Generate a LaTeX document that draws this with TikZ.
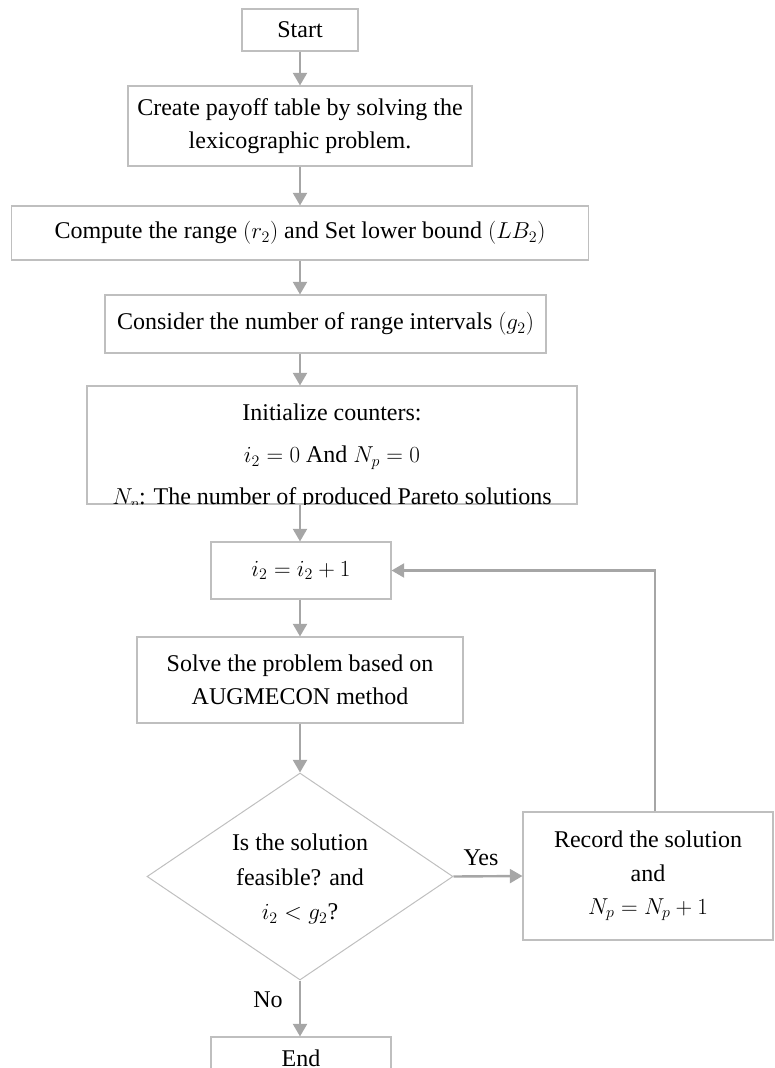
\documentclass[tikz,border=0pt]{standalone}
\usepackage{fontspec}
\setmainfont{Liberation Serif}
\usetikzlibrary{arrows.meta,shapes.geometric}
\definecolor{boxgray}{HTML}{BFBFBF}
\definecolor{arrgray}{HTML}{A6A6A6}
\newcommand\myfs{\fontsize{18}{25}\selectfont}
\begin{document}
\begin{tikzpicture}[x=0.75pt,y=-0.75pt,
  box/.style={draw=boxgray, line width=0.8pt, rectangle, inner sep=0pt, align=center, font=\myfs},
  sz/.style 2 args={minimum width=#1*0.75pt, minimum height=#2*0.75pt},
  arr/.style={draw=arrgray, line width=1.8pt, -{Triangle[length=9.5pt,width=10.5pt]}},
  lbl/.style={font=\myfs, inner sep=0pt}]
\useasboundingbox (0,0) rectangle (775,1068);
\clip (0,0) rectangle (775,1068);
\coordinate (col) at (300,0);
\coordinate (fb) at (655,570.5);

\node[box, sz={116}{42}] (start) at (300,30) {Start};
\node[box, sz={344}{80}] (create) at (300,126) {Create payoff table by solving the\\lexicographic problem.};
\node[box, sz={577}{54}] (compute) at (300,233) {Compute the range $(r_2)$ and Set lower bound $(LB_2)$};
\node[box, sz={441}{58}] (consider) at (325.5,324) {Consider the number of range intervals $(g_2)$};
\node[box, sz={490}{118}] (init) at (332,445) {};
\begin{scope}
\clip (init.south west) rectangle (init.north east);
\node[lbl, align=center, font=\fontsize{18}{31.5}\selectfont, anchor=north] (inittext) at (332,404) {Initialize counters:\\$i_2=0$ And $N_p=0$\\$N_p$: The number of produced Pareto solutions};
\end{scope}
\node[box, sz={180}{57}] (i2) at (301,570.5) {$i_2=i_2+1$};
\node[box, sz={326}{86}] (solve) at (300,680) {Solve the problem based on\\AUGMECON method};
\node[draw=boxgray, line width=0.75pt, diamond, minimum width=306*0.75pt, minimum height=207*0.75pt, inner sep=0pt] (dia) at (300,876.5) {};
\node[lbl, align=center, font=\fontsize{18}{26}\selectfont] (diatext) at (300,879) {Is the solution\\feasible? and\\$i_2<g_2$?};
\node[box, sz={250}{128}] (rec) at (648,876) {Record the solution\\and\\$N_p=N_p+1$};
\node[box, sz={180}{42}] (end) at (301,1058) {End};
\node[lbl] (yes) at (481,858) {Yes};
\node[lbl] (no) at (268,1000) {No};

\draw[arr] (start.south) -- (create.north);
\draw[arr] (create.south) -- (compute.north);
\draw[arr] (compute.south) -- (consider.north -| col);
\draw[arr] (consider.south -| col) -- (init.north -| col);
\draw[arr] (init.south -| col) -- (i2.north -| col);
\draw[arr] (i2.south -| col) -- (solve.north);
\draw[arr] (solve.south) -- (dia.north);
\draw[arr] (dia.south) -- (end.north -| col);
\draw[arr] (dia.east) -- (rec.west);
\draw[arr] (rec.north -| fb) -- (fb) -- (i2.east);
\end{tikzpicture}
\end{document}
